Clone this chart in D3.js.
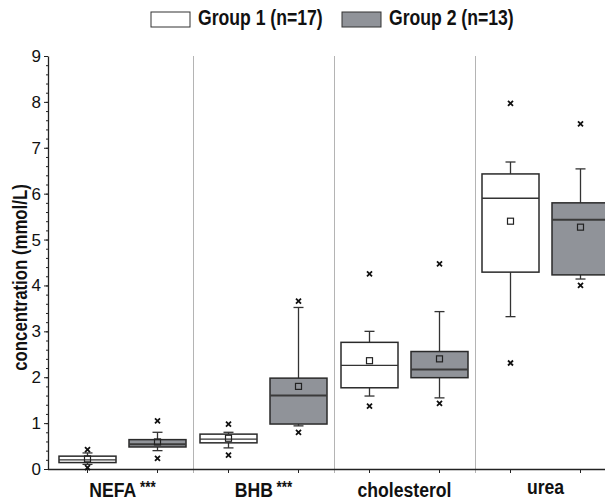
<!DOCTYPE html>
<html>
<head>
<meta charset="utf-8">
<script src="https://cdn.jsdelivr.net/npm/d3@7"></script>
<style>
    body { margin: 0; background: #fff; }
    text { font-family: "Liberation Sans", Arial, sans-serif; fill: #111; }
</style>
</head>
<body>
<svg id="chart"></svg>
<script>
const categories = ['NEFA', 'BHB', 'cholesterol', 'urea'];
const significance = ['***', '***', '', ''];
const groups = ['Group 1 (n=17)', 'Group 2 (n=13)'];
const yTicks = [0, 1, 2, 3, 4, 5, 6, 7, 8, 9];

// group 1 (white boxes)
const g1Low = [0.03, 0.30, 1.37, 2.31];
const g1WhiskerLow = [0.10, 0.46, 1.59, 3.32];
const g1Q1 = [0.14, 0.57, 1.77, 4.29];
const g1Median = [0.20, 0.65, 2.26, 5.90];
const g1Q3 = [0.28, 0.76, 2.76, 6.43];
const g1WhiskerHigh = [0.35, 0.80, 3.00, 6.69];
const g1High = [0.42, 0.98, 4.25, 7.97];
const g1Mean = [0.22, 0.67, 2.36, 5.40];

// group 2 (grey boxes)
const g2Low = [0.23, 0.80, 1.43, 4.00];
const g2WhiskerLow = [0.40, 0.94, 1.55, 4.14];
const g2Q1 = [0.48, 0.98, 1.99, 4.23];
const g2Median = [0.54, 1.60, 2.17, 5.43];
const g2Q3 = [0.64, 1.98, 2.56, 5.80];
const g2WhiskerHigh = [0.80, 3.52, 3.43, 6.54];
const g2High = [1.05, 3.66, 4.47, 7.52];
const g2Mean = [0.59, 1.80, 2.40, 5.27];

const fills = ['#ffffff', '#909399'];

const stats = [
    [g1Low, g1WhiskerLow, g1Q1, g1Median, g1Q3, g1WhiskerHigh, g1High, g1Mean],
    [g2Low, g2WhiskerLow, g2Q1, g2Median, g2Q3, g2WhiskerHigh, g2High, g2Mean]
];
const boxes = [];
categories.forEach((c, i) => {
    groups.forEach((g, j) => {
        const s = stats[j];
        boxes.push({
            category: c, group: g, gi: j,
            low: s[0][i], wLow: s[1][i], q1: s[2][i], median: s[3][i],
            q3: s[4][i], wHigh: s[5][i], high: s[6][i], mean: s[7][i]
        });
    });
});

const width = 605, height = 502;
const margin = { top: 56, left: 48, bottom: 33 };
const boxWidth = 57, capWidth = 10;
const squeeze = 0.84;   // the original's lettering is narrow

const svg = d3.select('#chart').attr('width', width).attr('height', height);

const x = d3.scaleBand().domain(categories).range([52, 616]);
const xGroup = d3.scalePoint().domain(groups).range([-35, 35]);
const y = d3.scaleLinear().domain([0, 9]).range([height - margin.bottom, margin.top]);
const y0 = y(0);

const cx = d => x(d.category) + x.bandwidth() / 2 + xGroup(d.group);

// separators between categories
svg.append('g').selectAll('line')
    .data(categories.slice(1))
    .join('line')
    .attr('x1', d => x(d) + 0.5).attr('x2', d => x(d) + 0.5)
    .attr('y1', y(9)).attr('y2', y0 + 4)
    .attr('stroke', '#b4b4b4').attr('stroke-width', 1);

// y axis, minor ticks then major
const yMinor = d3.axisLeft(y).tickValues(d3.range(0, 45).map(i => i / 5)).tickSize(2).tickFormat('');
svg.append('g').attr('transform', `translate(${margin.left},0)`).call(yMinor)
    .call(g => g.select('.domain').remove())
    .selectAll('line').attr('stroke', '#222');

const yAxis = d3.axisLeft(y).tickValues(yTicks).tickSize(4).tickPadding(3).tickSizeOuter(0);
const yAxisG = svg.append('g').attr('transform', `translate(${margin.left},0)`).call(yAxis);
yAxisG.select('.domain').attr('stroke', '#222').attr('stroke-width', 1.3);
yAxisG.selectAll('.tick line').attr('stroke', '#222');
yAxisG.selectAll('.tick text')
    .attr('font-size', 17)
    .attr('font-family', '"Liberation Sans", Arial, sans-serif')
    .attr('fill', '#111');

svg.append('text')
    .attr('transform', `translate(20, ${(y(0) + y(9)) / 2 + 15}) rotate(-90) scale(${squeeze}, 1)`)
    .attr('text-anchor', 'middle')
    .attr('dy', '0.35em')
    .attr('font-size', 20)
    .attr('font-weight', 'bold')
    .text('concentration (mmol/L)');

// x axis
svg.append('line')
    .attr('x1', margin.left).attr('x2', width)
    .attr('y1', y0 + 0.5).attr('y2', y0 + 0.5)
    .attr('stroke', '#222').attr('stroke-width', 1.3);
svg.append('g').selectAll('line')
    .data(boxes)
    .join('line')
    .attr('x1', cx).attr('x2', cx)
    .attr('y1', y0).attr('y2', y0 + 4)
    .attr('stroke', '#222');

const labelBase = [497, 497, 497, 494];
const labels = svg.append('g').selectAll('text')
    .data(categories)
    .join('text')
    .attr('transform', (d, i) => `translate(${x(d) + x.bandwidth() / 2}, ${labelBase[i]}) scale(${squeeze}, 1)`)
    .attr('text-anchor', 'middle')
    .attr('font-size', 21)
    .attr('font-weight', 'bold');
labels.append('tspan').text(d => d);
labels.append('tspan')
    .attr('font-size', 16)
    .attr('dy', -4)
    .text((d, i) => significance[i] ? ' ' + significance[i] : '');

// boxes
const bg = svg.append('g').selectAll('g')
    .data(boxes)
    .join('g')
    .attr('transform', d => `translate(${cx(d)},0)`);

bg.append('line')
    .attr('y1', d => y(d.q3)).attr('y2', d => y(d.wHigh))
    .attr('stroke', '#333').attr('stroke-width', 1.3);
bg.append('line')
    .attr('y1', d => y(d.q1)).attr('y2', d => y(d.wLow))
    .attr('stroke', '#333').attr('stroke-width', 1.3);
bg.append('line')
    .attr('x1', -capWidth / 2).attr('x2', capWidth / 2)
    .attr('y1', d => y(d.wHigh)).attr('y2', d => y(d.wHigh))
    .attr('stroke', '#333').attr('stroke-width', 1.3);
bg.append('line')
    .attr('x1', -capWidth / 2).attr('x2', capWidth / 2)
    .attr('y1', d => y(d.wLow)).attr('y2', d => y(d.wLow))
    .attr('stroke', '#333').attr('stroke-width', 1.3);

bg.append('rect')
    .attr('x', -boxWidth / 2).attr('width', boxWidth)
    .attr('y', d => y(d.q3))
    .attr('height', d => y(d.q1) - y(d.q3))
    .attr('fill', d => fills[d.gi])
    .attr('stroke', '#2a2a2a').attr('stroke-width', 1.5);

bg.append('line')
    .attr('x1', -boxWidth / 2).attr('x2', boxWidth / 2)
    .attr('y1', d => y(d.median)).attr('y2', d => y(d.median))
    .attr('stroke', d => d.gi ? '#3a3a3a' : '#333')
    .attr('stroke-width', d => d.gi ? 2 : 1.3);

bg.append('rect')
    .attr('x', -3).attr('width', 6)
    .attr('y', d => y(d.mean) - 3).attr('height', 6)
    .attr('fill', 'none')
    .attr('stroke', '#222').attr('stroke-width', 1.2);

const cross = 'M-2.5,-2.5L2.5,2.5M-2.5,2.5L2.5,-2.5';
bg.append('path')
    .attr('d', cross)
    .attr('transform', d => `translate(0,${y(d.high)})`)
    .attr('stroke', '#111').attr('stroke-width', 1.8);
bg.append('path')
    .attr('d', cross)
    .attr('transform', d => `translate(0,${y(d.low)})`)
    .attr('stroke', '#111').attr('stroke-width', 1.8);

// legend
const legendX = [151, 342];
const legend = svg.append('g').selectAll('g')
    .data(groups)
    .join('g')
    .attr('transform', (d, i) => `translate(${legendX[i]}, 12)`);
legend.append('rect')
    .attr('width', 39).attr('height', 15)
    .attr('fill', (d, i) => fills[i])
    .attr('stroke', '#333').attr('stroke-width', 1);
legend.append('text')
    .attr('transform', `translate(47, 13) scale(0.8, 1)`)
    .attr('font-size', 22)
    .attr('font-weight', 'bold')
    .text(d => d);
</script>
</body>
</html>
